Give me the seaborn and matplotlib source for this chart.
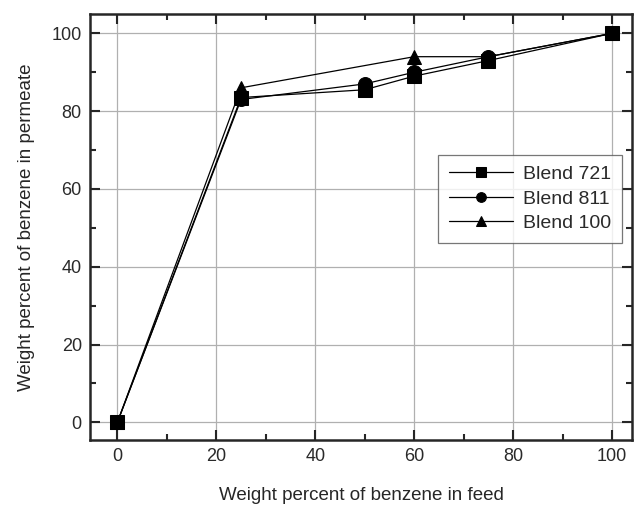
import pandas as pd
import matplotlib
matplotlib.use('Agg')
import matplotlib.pyplot as plt
import seaborn as sns
from matplotlib.ticker import MultipleLocator

# Dati
feed_721 = [0, 25, 50, 60, 75, 100]
perm_721 = [0, 83.5, 85.5, 89, 93, 100]
feed_811 = [0, 25, 50, 60, 75, 100]
perm_811 = [0, 83, 87, 90, 94, 100]
feed_100 = [0, 25, 60, 75, 100]
perm_100 = [0, 86, 94, 94, 100]
blends = ['Blend 721', 'Blend 811', 'Blend 100']

df = pd.concat([
    pd.DataFrame({'feed': feed_721, 'perm': perm_721, 'blend': blends[0]}),
    pd.DataFrame({'feed': feed_811, 'perm': perm_811, 'blend': blends[1]}),
    pd.DataFrame({'feed': feed_100, 'perm': perm_100, 'blend': blends[2]}),
])

sns.set_style('ticks')
plt.rcParams['font.family'] = ['Liberation Sans', 'DejaVu Sans']
plt.rcParams['text.color'] = '#2a2a2a'
plt.rcParams['xtick.labelcolor'] = '#2a2a2a'
plt.rcParams['ytick.labelcolor'] = '#2a2a2a'

fig = plt.figure(figsize=(6.35, 5.15), dpi=100)
ax = fig.add_axes([0.142, 0.146, 0.853, 0.827])

ax.grid(True, color='#b0b0b0', linewidth=0.9, zorder=0)
ax.set_axisbelow(True)

sns.lineplot(data=df, x='feed', y='perm', hue='blend', style='blend',
             hue_order=blends, style_order=blends,
             palette=['black'] * 3, markers=['s', 'o', '^'], dashes=False,
             markersize=10, linewidth=0.9, markeredgecolor='black',
             sort=False, ax=ax)

ax.set_xlim(-5.5, 104)
ax.set_ylim(-4.5, 105)
ax.xaxis.set_major_locator(MultipleLocator(20))
ax.xaxis.set_minor_locator(MultipleLocator(10))
ax.yaxis.set_major_locator(MultipleLocator(20))
ax.yaxis.set_minor_locator(MultipleLocator(10))
ax.tick_params(which='both', direction='in', top=True, right=True, labelsize=13, width=1.5)
ax.tick_params(which='major', length=7, pad=6)
ax.tick_params(which='minor', length=4)
for s in ax.spines.values():
    s.set_linewidth(1.8)

ax.set_xlabel('Weight percent of benzene in feed', fontsize=13.5, labelpad=16)
ax.set_ylabel('Weight percent of benzene in permeate', fontsize=13.5, labelpad=12)

leg = ax.legend(loc='upper left', bbox_to_anchor=(0.625, 0.692), fontsize=14,
                frameon=True, fancybox=False, edgecolor='#555555', handlelength=3.3,
                borderpad=0.55, labelspacing=0.35, markerscale=0.7, handletextpad=0.5)
leg.get_frame().set_linewidth(0.9)

fig.savefig('out.png', dpi=100)
